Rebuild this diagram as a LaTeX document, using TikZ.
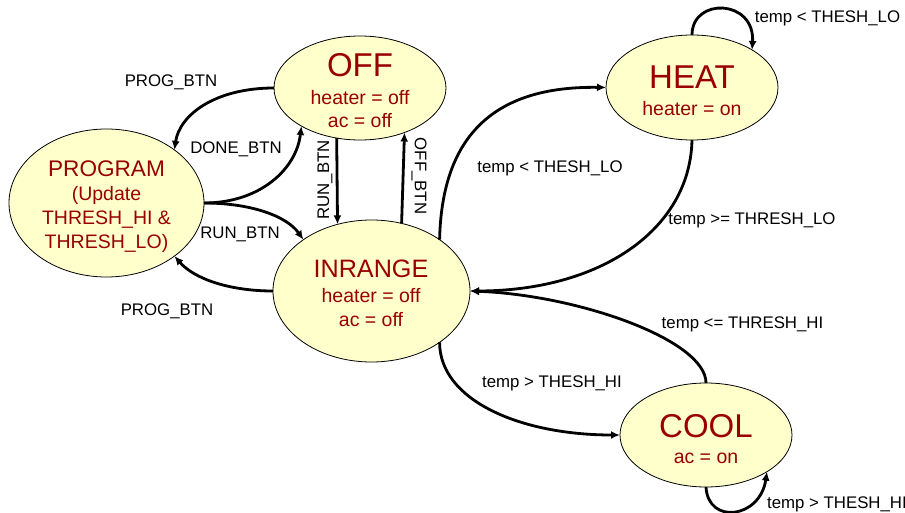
\documentclass[tikz,border=0pt]{standalone}
\usepackage{fontspec}
\setmainfont{Liberation Sans}
\usetikzlibrary{shapes.geometric,arrows.meta}
\definecolor{statefill}{HTML}{FFFFCC}
\definecolor{statetext}{HTML}{990000}
\begin{document}
\begin{tikzpicture}[x=1pt,y=-1pt,
  state/.style={ellipse,draw=black,line width=0.8pt,fill=statefill,inner sep=0pt,outer sep=0pt},
  bigtxt/.style={text=statetext,font=\fontsize{33}{33}\selectfont,anchor=base,inner sep=0pt},
  midtxt/.style={text=statetext,anchor=base,inner sep=0pt},
  subtxt/.style={text=statetext,font=\fontsize{19.5}{19.5}\selectfont,anchor=base,inner sep=0pt},
  lbl/.style={font=\fontsize{16.8}{16.8}\selectfont,anchor=base,inner sep=0pt},
  rlbl/.style={font=\fontsize{16.8}{16.8}\selectfont,anchor=center,inner sep=0pt},
  edge/.style={line width=2.8pt,-{Latex[length=9pt,width=8pt]}}
]
\useasboundingbox (0,0) rectangle (905,513);

% states
\node[state,minimum width=172pt,minimum height=104pt] (off) at (360,88) {};
\node[state,minimum width=195pt,minimum height=148pt] (program) at (106.5,203) {};
\node[state,minimum width=197pt,minimum height=142pt] (inrange) at (371.5,291) {};
\node[state,minimum width=172pt,minimum height=105pt] (heat) at (692,87.5) {};
\node[state,minimum width=172pt,minimum height=104pt] (cool) at (706,435) {};

% state texts
\node[bigtxt] (offT) at (360,77) {OFF};
\node[subtxt] (offA) at (360,105) {heater = off};
\node[subtxt] (offB) at (360,128) {ac = off};

\node[midtxt,font=\fontsize{22.6}{22.6}\selectfont] (progT) at (106.5,177) {PROGRAM};
\node[subtxt] (progA) at (106.5,201) {(Update};
\node[subtxt] (progB) at (106.5,225) {THRESH\_HI \&};
\node[subtxt] (progC) at (106.5,248) {THRESH\_LO)};

\node[midtxt,font=\fontsize{25.2}{25.2}\selectfont] (inT) at (371,277) {INRANGE};
\node[subtxt] (inA) at (371,302) {heater = off};
\node[subtxt] (inB) at (371,326) {ac = off};

\node[bigtxt] (heatT) at (692,89) {HEAT};
\node[subtxt] (heatA) at (692,116) {heater = on};

\node[bigtxt] (coolT) at (706,437) {COOL};
\node[subtxt] (coolA) at (706,463) {ac = on};

% transitions
\draw[edge] (off.west) .. controls +(-59,0) and +(5,-35) .. (program.38);
\draw[edge] (program.east) .. controls +(56,0) and +(-5,43) .. (off.213);
\draw[edge] (program.east) .. controls +(46,0) and +(-17,-24) .. (inrange.143);
\draw[edge] (inrange.west) .. controls +(-43,0) and +(20,23) .. (program.-38);
\draw[edge] (off.245) -- (inrange.117);
\draw[edge] (inrange.66) -- (off.-45);
\draw[edge] (inrange.37) .. controls +(2,-90) and +(-125,-2) .. (heat.west);
\draw[edge] (heat.south) .. controls +(-2,90) and +(130,0) .. (inrange.east);
\draw[edge] (cool.north) .. controls +(0,-43) and +(108,4) .. (inrange.east);
\draw[edge] (inrange.-37) .. controls +(0,58) and +(-100,0) .. (cool.west);
\draw[edge] (heat.north) .. controls +(0,-38) and +(3,-51) .. (heat.32);
\draw[edge] (cool.south) .. controls +(2,38) and +(-7,47) .. (cool.-31);

% labels
\node[lbl] (l1) at (171,87) {PROG\_BTN};
\node[lbl] (l2) at (236,154) {DONE\_BTN};
\node[lbl] (l3) at (240,239) {RUN\_BTN};
\node[lbl] (l4) at (167,315) {PROG\_BTN};
\node[rlbl,rotate=90] (l5) at (325,180) {RUN\_BTN};
\node[rlbl,rotate=-90] (l6) at (419,176) {OFF\_BTN};
\node[lbl] (l7) at (550,173) {temp < THESH\_LO};
\node[lbl] (l8) at (827.5,23) {temp < THESH\_LO};
\node[lbl] (l9) at (752,225) {temp >= THRESH\_LO};
\node[lbl] (l10) at (742.5,328) {temp <= THRESH\_HI};
\node[lbl] (l11) at (552,387) {temp > THESH\_HI};
\node[lbl,anchor=base west] (l12) at (767,508) {temp > THESH\_HI};
\end{tikzpicture}
\end{document}
